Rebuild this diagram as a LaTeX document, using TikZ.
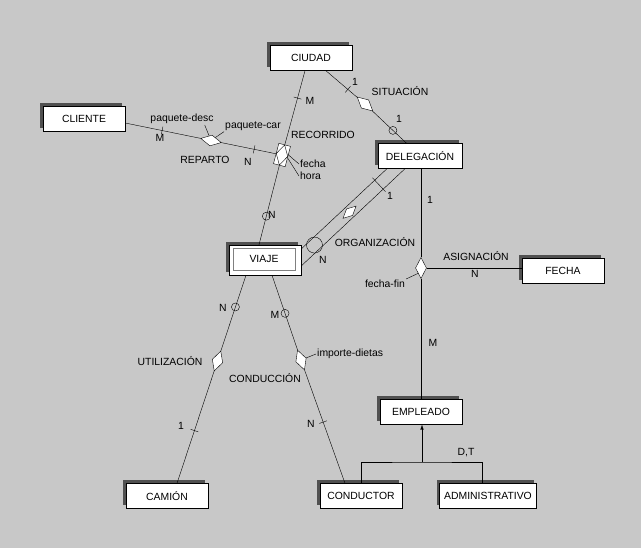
\documentclass[tikz,border=0pt]{standalone}
\usepackage{fontspec}
\setmainfont{Liberation Sans}
\usetikzlibrary{shapes.geometric, shadows, arrows.meta}
\definecolor{fondo}{RGB}{200,200,200}
\definecolor{sombra}{RGB}{80,80,80}

\begin{document}
\begin{tikzpicture}[x=1pt, y=-1pt, font=\fontsize{10.4}{12}\selectfont,
    entidad/.style = {draw, fill=white, minimum width=82pt, minimum height=25pt, inner sep=2pt,
        drop shadow={shadow xshift=-3pt, shadow yshift=3pt, fill=sombra, opacity=1}},
    relacion/.style = {diamond, draw, fill=white, inner sep=0pt, minimum width=21pt, minimum height=11pt},
    barra/.style = {draw, rectangle, inner sep=0pt, minimum width=0pt, minimum height=8pt, sloped},
    aro/.style = {circle, draw, inner sep=0pt, minimum size=8pt},
    lbl/.style = {inner sep=1pt}]

    \fill[fondo] (0,0) rectangle (641,548);

    \node[entidad] (ciudad) at (311,58) {CIUDAD};
    \node[entidad] (cliente) at (84,119) {CLIENTE};
    \node[entidad, minimum width=84pt] (delegacion) at (420,156) {DELEGACIÓN};
    \node[entidad, minimum width=72pt, minimum height=30pt] (viaje) at (265,260) {};
    \node[draw=gray, minimum width=62pt, minimum height=22pt] (viajein) at (264,259) {VIAJE};
    \node[entidad] (fecha) at (563,271) {FECHA};
    \node[entidad] (empleado) at (421,412) {EMPLEADO};
    \node[entidad] (camion) at (167,496) {CAMIÓN};
    \node[entidad] (conductor) at (361,496) {CONDUCTOR};
    \node[entidad, minimum width=97pt] (admin) at (488,496) {ADMINISTRATIVO};

    \node[relacion, rotate=-42] (situacion) at (365,104) {};
    \node[draw, fill=white, inner sep=0pt, minimum width=21pt, minimum height=12pt, rotate=75.3] (recorrido) at (282,155) {};
    \node[relacion, minimum height=12pt, rotate=75.3] (recorridoin) at (recorrido) {};
    \node[relacion, rotate=-11.5] (reparto) at (211,140.5) {};
    \node[relacion, minimum width=11pt, minimum height=21pt] (asignacion) at (421,268) {};
    \node[relacion, rotate=71.7] (utilizacion) at (217.5,361) {};
    \node[relacion, rotate=-70.7] (conduccion) at (301,360) {};

    \draw (ciudad) -- node[barra, pos=0.7] {} (situacion);
    \draw (situacion) -- node[aro, pos=0.6] {} (delegacion);

    \draw ([xshift=-6pt]ciudad.south) -- node[barra, pos=0.37] {} (recorrido);
    \draw (recorrido) -- node[aro, pos=0.64] {} ([xshift=-6pt]viaje.north);
    \draw ([yshift=-4pt]cliente.east) -- node[barra, pos=0.49] {} (reparto);
    \draw (reparto) -- node[barra, pos=0.6] {} (recorrido);

    \draw ([xshift=-33pt]delegacion.south) -- ([yshift=11pt]viaje.east);
    \draw ([xshift=-15pt]delegacion.south) -- ([yshift=-6pt]viaje.east);
    \path ([xshift=-24pt]delegacion.south) -- ([yshift=2.5pt]viaje.east)
        node[barra, pos=0.18, minimum height=19pt] {}
        node[relacion, sloped, pos=0.49, minimum width=18pt, minimum height=9pt] (organizacion) {}
        node[aro, pos=0.86, minimum size=16pt] {};

    \draw (asignacion |- delegacion.south) -- (asignacion);
    \draw (asignacion) -- (asignacion |- empleado.north);
    \draw (asignacion) -- (asignacion -| fecha.west);

    \draw ([xshift=-19pt]viaje.south) -- node[aro, pos=0.42] {} (utilizacion);
    \draw (utilizacion) -- node[barra, pos=0.53] {} ([xshift=10pt]camion.north);
    \draw ([xshift=7pt]viaje.south) -- node[aro, pos=0.51] {} (conduccion);
    \draw (conduccion) -- node[barra, pos=0.46] {} ([xshift=-16pt]conductor.north);

    \coordinate (isa) at (422,462);
    \draw[-{Latex[length=5pt, width=3.5pt]}] (isa) -- (isa |- empleado.south);
    \draw (conductor.north) |- (isa) -| ([xshift=-6pt]admin.north);

    \node[lbl] (c1) at (355,82) {1};
    \node[lbl] (lsituacion) at (400,91) {SITUACIÓN};
    \node[lbl] (c2) at (399,119) {1};
    \node[lbl] (c3) at (310,101) {M};
    \node[lbl] (lrecorrido) at (323,135) {RECORRIDO};
    \node[lbl] (c4) at (272,215) {N};
    \node[lbl] (lpdesc) at (182,119) {paquete-desc};
    \node[lbl] (lpcar) at (253,126) {paquete-car};
    \node[lbl] (c5) at (160,138) {M};
    \node[lbl] (lreparto) at (205,160) {REPARTO};
    \node[lbl] (c6) at (248,162) {N};
    \node[lbl, anchor=west] (lfecha) at (299,164) {fecha};
    \node[lbl, anchor=west] (lhora) at (299,176) {hora};
    \node[lbl] (c7) at (390,196) {1};
    \node[lbl] (lorganizacion) at (375,242) {ORGANIZACIÓN};
    \node[lbl] (c8) at (323,260) {N};
    \node[lbl] (c9) at (430,200) {1};
    \node[lbl] (lasignacion) at (476,256) {ASIGNACIÓN};
    \node[lbl] (c10) at (475,274) {N};
    \node[lbl] (lfechafin) at (385,284) {fecha-fin};
    \node[lbl] (c11) at (433,343) {M};
    \node[lbl] (c12) at (223,308) {N};
    \node[lbl] (lutilizacion) at (170,361) {UTILIZACIÓN};
    \node[lbl] (c13) at (181,426) {1};
    \node[lbl] (c14) at (275,315) {M};
    \node[lbl, anchor=west] (limporte) at (316,354) {importe-dietas};
    \node[lbl] (lconduccion) at (265,378) {CONDUCCIÓN};
    \node[lbl] (c15) at (311,424) {N};
    \node[lbl] (ldt) at (466,453) {D,T};

    \draw ([yshift=2pt]recorrido.south) -- (lfecha.west);
    \draw ([yshift=-2pt]recorrido.south) -- (lhora.west);
    \draw ([xshift=-10pt]lpdesc.south east) -- (reparto);
    \draw (lpcar.south west) -- (reparto);
    \draw (lfechafin.north east) -- (asignacion.south west);
    \draw (conduccion) -- (limporte.west);

\end{tikzpicture}
\end{document}
